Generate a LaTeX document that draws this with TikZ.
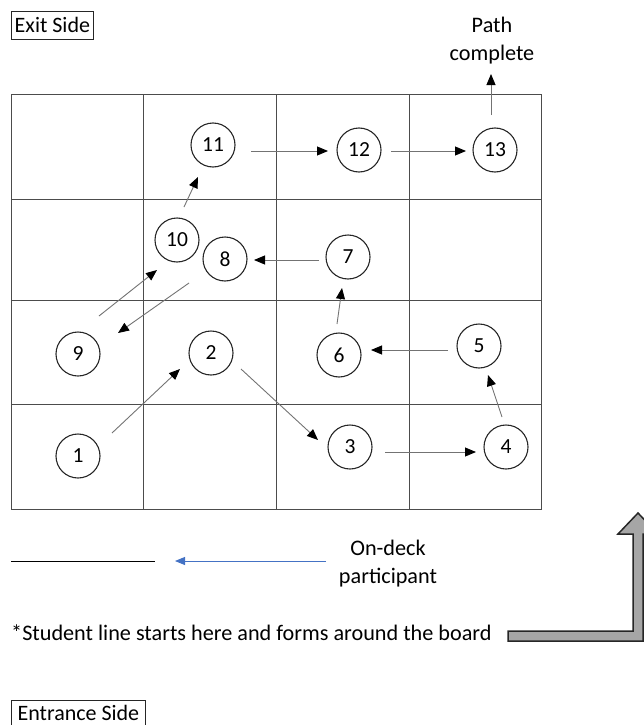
\documentclass[tikz,border=0pt]{standalone}
\usepackage{fontspec}
\setmainfont{Carlito}
\usetikzlibrary{arrows.meta,calc}
\definecolor{msblue}{RGB}{68,114,196}
\begin{document}
\begin{tikzpicture}[x=1pt,y=-1pt,
  gridline/.style={draw=black!70,line width=1pt},
  num/.style={circle,draw=black!85,line width=1.1pt,minimum size=44pt,inner sep=0pt,font=\fontsize{21.5}{25}\selectfont},
  conn/.style={draw=black!55,line width=0.9pt,-{Triangle[length=11pt,width=9pt,color=black,fill=black]}},
  txt/.style={inner sep=0pt,font=\fontsize{22.2}{28}\selectfont},
  boxlabel/.style={draw=black!85,line width=0.8pt,inner sep=0pt,font=\fontsize{22}{28}\selectfont},
  bluearrow/.style={draw=msblue,line width=0.9pt,-{Triangle[length=10pt,width=8pt]}},
  bigarrow/.style={draw=black!85,fill=black!35,line width=1.5pt,line join=miter}
]
\useasboundingbox (0,0) rectangle (644,725);
\clip (0,0) rectangle (644,725);

% board grid
\draw[gridline] (11,94) rectangle (541,509);
\foreach \x in {143,276,409} \draw[gridline] (\x,94) -- (\x,509);
\foreach \y in {199,300,404} \draw[gridline] (11,\y) -- (541,\y);

% numbered positions
\node[num] (c1) at (78,456) {1};
\node[num] (c2) at (211,353) {2};
\node[num] (c3) at (350,447) {3};
\node[num] (c4) at (506,447) {4};
\node[num] (c5) at (479,346) {5};
\node[num] (c6) at (339,355) {6};
\node[num] (c7) at (348,257) {7};
\node[num] (c8) at (225,259) {8};
\node[num] (c9) at (78,354) {9};
\node[num] (c10) at (177,240) {10};
\node[num] (c11) at (213,145) {11};
\node[num] (c12) at (359,150) {12};
\node[num] (c13) at (495,150) {13};

% labels
\node[boxlabel,minimum width=82pt,minimum height=28pt,anchor=north west] (exit) at (11,11) {Exit Side};
\node[txt,align=center] (pc) at (492,41) {Path\\complete};
\node[txt,align=center] (od) at (388,564) {On-deck\\participant};
\node[txt,anchor=west] (st) at (11,633) {*Student line starts here and forms around the board};
\node[boxlabel,minimum width=134pt,minimum height=25pt,anchor=north west] (ent) at (11,700) {Entrance Side};

% path arrows
\draw[conn] ($(c1)+(34,-23)$) -- ($(c2)+(-31,16)$);
\draw[conn] ($(c2)+(30,16)$) -- ($(c3)+(-32,-7)$);
\draw[conn] ($(c3)+(35,5)$) -- ($(c4)+(-30,5)$);
\draw[conn] ($(c4)+(-4,-30)$) -- ($(c5)+(9,29)$);
\draw[conn] ($(c5)+(-31,4)$) -- ($(c6)+(32,-5)$);
\draw[conn] ($(c6)+(-2,-31)$) -- ($(c7)+(-6,31)$);
\draw[conn] ($(c7)+(-29,3)$) -- ($(c8)+(29,1)$);
\draw[conn] ($(c8)+(-36,24)$) -- ($(c9)+(40,-21)$);
\draw[conn] ($(c9)+(21,-38)$) -- ($(c10)+(-20,30)$);
\draw[conn] ($(c10)+(7,-33)$) -- ($(c11)+(-15,32)$);
\draw[conn] ($(c11)+(38,6)$) -- ($(c12)+(-31,1)$);
\draw[conn] ($(c12)+(32,1)$) -- ($(c13)+(-29,1)$);
\coordinate (pctip) at (491,74);
\draw[conn] ($(c13)+(-4,-35)$) -- (pctip);

% on-deck line
\coordinate (ls) at (11,561);
\coordinate (le) at (155,561);
\draw[black,line width=1pt] (ls) -- (le);
\coordinate (bt) at (175,561);
\draw[bluearrow] (326,561) -- (bt);

% big bent arrow
\draw[bigarrow] (508,631) -- (633,631) -- (633,534) -- (618,534) -- (638,513) -- (658,534) -- (643,534) -- (643,641) -- (508,641) -- cycle;
\end{tikzpicture}
\end{document}
